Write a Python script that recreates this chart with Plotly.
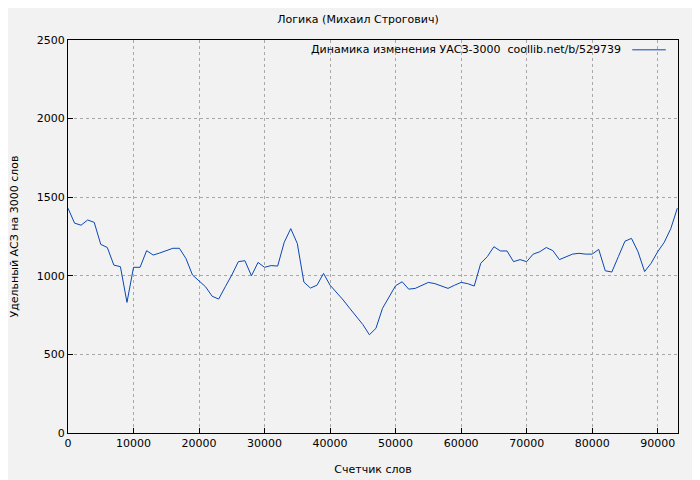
import plotly.graph_objects as go

# word counter positions and specific ACZ values
words = [0, 1000, 2000, 3000, 4000, 5000, 6000, 7000, 8000, 9000,
         10000, 11000, 12000, 13000, 14000, 15000, 16000, 17000, 18000, 19000,
         20000, 21000, 22000, 23000, 24000, 25000, 26000, 27000, 28000, 29000,
         30000, 31000, 32000, 33000, 34000, 35000, 36000, 37000, 38000, 39000,
         40000, 41000, 42000, 43000, 44000, 45000, 46000, 47000, 48000, 49000,
         50000, 51000, 52000, 53000, 54000, 55000, 56000, 57000, 58000, 59000,
         60000, 61000, 62000, 63000, 64000, 65000, 66000, 67000, 68000, 69000,
         70000, 71000, 72000, 73000, 74000, 75000, 76000, 77000, 78000, 79000,
         80000, 81000, 82000, 83000, 84000, 85000, 86000, 87000, 88000, 89000,
         90000, 91000, 92000, 93000]
acz = [1430, 1335, 1322, 1355, 1340, 1200, 1180, 1068, 1058, 831,
       1054, 1054, 1160, 1132, 1145, 1160, 1175, 1175, 1110, 1005,
       970, 930, 870, 852, 930, 1005, 1090, 1096, 1000, 1085,
       1054, 1065, 1062, 1213, 1300, 1205, 960, 922, 940, 1015,
       940, 895, 846, 793, 740, 690, 625, 666, 793, 870,
       937, 962, 915, 920, 940, 958, 950, 935, 920, 940,
       958, 950, 935, 1080, 1122, 1185, 1158, 1158, 1090, 1103,
       1090, 1138, 1153, 1180, 1160, 1103, 1122, 1138, 1143, 1138,
       1138, 1168, 1032, 1024, 1122, 1220, 1238, 1153, 1027, 1080,
       1153, 1213, 1300, 1430]
x_ticks = list(range(0, 100000, 10000))
y_ticks = [0, 500, 1000, 1500, 2000, 2500]
legend_text = "Динамика изменения УАСЗ-3000  coollib.net/b/529739"

bg = "#f2f2f2"
line_color = "#0a47b4"
fig = go.Figure(go.Scatter(x=words, y=acz, mode="lines",
                           line=dict(color=line_color, width=1),
                           showlegend=False))

axis = dict(showline=True, linecolor="black", linewidth=1, mirror=True,
            ticks="inside", ticklen=5, tickcolor="black",
            showgrid=True, gridcolor="#a8a8a8", griddash="dot", gridwidth=1,
            zeroline=False, tickfont=dict(size=11, color="black"),
            automargin=False)

fig.update_layout(
    width=700, height=480,
    paper_bgcolor=bg, plot_bgcolor=bg,
    font=dict(family="DejaVu Sans", size=11, color="black"),
    title=dict(text="Логика (Михаил Строгович)", x=0.5, xanchor="center",
               y=0.985, font=dict(size=11)),
    margin=dict(l=60, r=30, t=32, b=55),
    xaxis=dict(axis, range=[0, 93100], tickvals=x_ticks,
               ticktext=[str(v) for v in x_ticks],
               title=dict(text="Счетчик слов", font=dict(size=11), standoff=16)),
    yaxis=dict(axis, range=[0, 2500], tickvals=y_ticks,
               ticktext=[str(v) for v in y_ticks],
               title=dict(text="Удельный АСЗ на 3000 слов", font=dict(size=11), standoff=18)),
)

# legend drawn gnuplot-style: text first, sample line after it
fig.add_annotation(xref="paper", yref="paper", x=0.91, y=0.975,
                   xanchor="right", yanchor="middle", showarrow=False,
                   text=legend_text, font=dict(size=11))
fig.add_shape(type="line", xref="paper", yref="paper",
              x0=0.925, x1=0.98, y0=0.975, y1=0.975,
              line=dict(color=line_color, width=1))

fig.write_html("out.html")
